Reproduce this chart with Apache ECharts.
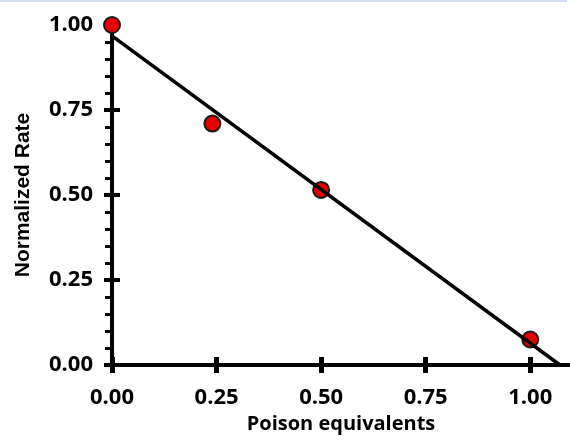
<!DOCTYPE html>
<html>
<head>
<meta charset="utf-8">
<script src="https://cdn.jsdelivr.net/npm/echarts@6/dist/echarts.min.js"></script>
<style>
  html, body { margin: 0; padding: 0; background: #fff; }
  #chart { width: 570px; height: 440px; }
</style>
</head>
<body>
<div id="chart"></div>
<script>
// Measured rates against added poison
const poisonEq = [0.0, 0.24, 0.50, 1.00];
const normRate = [1.00, 0.71, 0.515, 0.075];

// Least-squares fit line endpoints (intercept and x-intercept)
const fitX = [0.0, 1.071];
const fitY = [0.968, 0.0];

// Tick values
const xTicks = [0, 0.25, 0.5, 0.75, 1.0];
const yTicks = [0, 0.25, 0.5, 0.75, 1.0];

const tickFont = { fontFamily: 'Open Sans', fontWeight: 'bold', fontSize: 22, color: '#000' };

const chart = echarts.init(document.getElementById('chart'), null, { renderer: 'canvas' });

const xBase = {
  type: 'value', min: 0, max: 1.095, gridIndex: 0, position: 'bottom',
  splitLine: { show: false },
  axisLine: { show: true, onZero: false, lineStyle: { color: '#000', width: 4 } }
};
const yBase = {
  type: 'value', min: 0, max: 1, interval: 0.25, gridIndex: 0, position: 'left',
  splitLine: { show: false },
  axisLine: { show: true, onZero: false, lineStyle: { color: '#000', width: 4 } }
};

chart.setOption({
  animation: false,
  backgroundColor: '#fff',
  grid: { left: 112, right: 0, top: 25, bottom: 75, containLabel: false },
  graphic: [{
    type: 'rect', left: 0, top: 0, z: 100,
    shape: { x: 0, y: 0, width: 567, height: 2 },
    style: { fill: '#d3dff0' }
  }],
  xAxis: [
    Object.assign({}, xBase, {
      name: 'Poison equivalents',
      nameLocation: 'middle',
      nameGap: 44,
      nameTextStyle: { fontFamily: 'Open Sans', fontWeight: 'bold', fontSize: 20, color: '#000' },
      axisTick: { show: true, inside: false, length: 8, customValues: xTicks, lineStyle: { color: '#000', width: 5 } },
      axisLabel: Object.assign({ show: true, margin: 22, customValues: xTicks,
        formatter: v => v.toFixed(2) }, tickFont)
    }),
    Object.assign({}, xBase, {
      axisTick: { show: true, inside: true, length: 8, customValues: xTicks, lineStyle: { color: '#000', width: 5 } },
      axisLabel: { show: false }
    })
  ],
  yAxis: [
    Object.assign({}, yBase, {
      name: 'Normalized Rate',
      nameLocation: 'middle',
      nameGap: 78,
      nameTextStyle: { fontFamily: 'Liberation Sans', fontWeight: 'bold', fontSize: 21, color: '#000' },
      axisTick: { show: true, inside: false, length: 8, lineStyle: { color: '#000', width: 4 } },
      minorTick: { show: true, splitNumber: 5, length: 7, lineStyle: { color: '#000', width: 3 } },
      axisLabel: Object.assign({ show: true, margin: 19, formatter: v => v.toFixed(2) }, tickFont)
    }),
    Object.assign({}, yBase, {
      axisTick: { show: true, inside: true, length: 8, lineStyle: { color: '#000', width: 4 } },
      axisLabel: { show: false }
    })
  ],
  series: [
    {
      type: 'scatter',
      xAxisIndex: 0, yAxisIndex: 0,
      data: poisonEq.map((x, i) => [x, normRate[i]]),
      symbol: 'circle',
      symbolSize: 16,
      clip: false,
      z: 2,
      itemStyle: { color: '#e60000', borderColor: '#1a1a1a', borderWidth: 2, opacity: 1 }
    },
    {
      type: 'line',
      xAxisIndex: 0, yAxisIndex: 0,
      data: fitX.map((x, i) => [x, fitY[i]]),
      showSymbol: false,
      symbol: 'none',
      clip: false,
      z: 3,
      lineStyle: { color: '#000', width: 3.5 }
    }
  ]
});
</script>
</body>
</html>
